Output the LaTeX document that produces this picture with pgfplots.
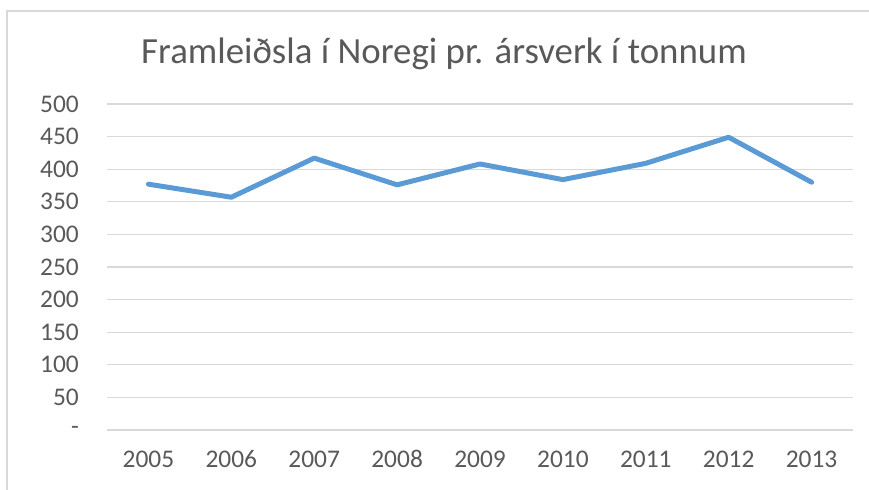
\documentclass[border=0pt]{standalone}
\usepackage{fontspec}
\setmainfont{Carlito}
\usepackage{pgfplots}
\pgfplotsset{compat=1.18}
\definecolor{txtc}{HTML}{595959}
\definecolor{gridc}{HTML}{D9D9D9}
\definecolor{linec}{HTML}{5B9BD5}
\begin{document}
\begin{tikzpicture}[x=1bp,y=1bp]
\useasboundingbox (0,0) rectangle (869,490);
\draw[gridc, line width=1.2bp] (7,-5) -- (7,479) -- (875,479);
\node[txtc, font=\fontsize{37}{44}\selectfont, anchor=base] at (444,426) {Framleiðsla í Noregi pr. ársverk í tonnum};
\begin{axis}[
  at={(107bp,60bp)}, anchor=south west,
  scale only axis, width=746bp, height=326bp,
  xmin=-0.5, xmax=8.5, ymin=0, ymax=500,
  xtick={0,...,8},
  xticklabels={2005,2006,2007,2008,2009,2010,2011,2012,2013},
  ytick={0,50,...,500},
  yticklabels={-,50,100,150,200,250,300,350,400,450,500},
  /pgf/number format/assume math mode=true,
  axis lines=none,
  hide x axis=false, hide y axis=false,
  axis line style={draw=none},
  major tick length=0pt,
  tick style={draw=none},
  xmajorgrids=false,
  ymajorgrids=true,
  major grid style={draw=gridc, line width=1.2bp},
  ticklabel style={text=txtc, font=\fontsize{25.5}{30}\selectfont},
  yticklabel style={anchor=east, inner sep=0pt, xshift=-28bp},
  xticklabel style={anchor=base, inner sep=0pt, yshift=-38bp},
  clip=false,
]
\addplot[linec, line width=5bp, line join=round, line cap=round] coordinates {
(0,377) (1,357) (2,417) (3,376) (4,408) (5,384) (6,409) (7,449) (8,380)};
\end{axis}
\end{tikzpicture}
\end{document}
